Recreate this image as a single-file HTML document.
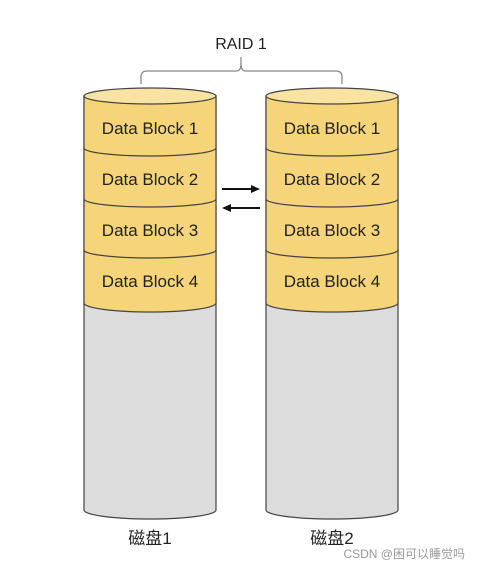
<!DOCTYPE html>
<html><head><meta charset="utf-8"><style>
html,body{margin:0;padding:0;background:#fff;}
svg{display:block;font-family:"Liberation Sans","Noto Sans CJK SC",sans-serif;}
</style></head><body>
<svg width="479" height="569" viewBox="0 0 479 569">
  <text x="241" y="49" font-size="16" text-anchor="middle" fill="#222">RAID 1</text>
  <path d="M141 84 V77 Q141 71 147 71 H236 Q241 71 241 64 V57 M241 64 Q241 71 246 71 H336 Q342 71 342 77 V84" fill="none" stroke="#888" stroke-width="1.3"/>

  <g>
    <path d="M84 96 V510 A66 9 0 0 0 216 510 V96 Z" fill="#dcdcdc" stroke="#444" stroke-width="1.2"/>
    <path d="M84 96 V303 A66 9 0 0 0 216 303 V96 Z" fill="#f5d47a" stroke="#444" stroke-width="1.2"/>
    <ellipse cx="150" cy="96" rx="66" ry="8" fill="#f9e3a3" stroke="#444" stroke-width="1.2"/>
    <path d="M84 148 A66 8 0 0 0 216 148 M84 199 A66 8 0 0 0 216 199 M84 250 A66 8 0 0 0 216 250" fill="none" stroke="#444" stroke-width="1.2"/>
    <text x="150" y="134" font-size="17" text-anchor="middle" fill="#222">Data Block 1</text>
    <text x="150" y="185" font-size="17" text-anchor="middle" fill="#222">Data Block 2</text>
    <text x="150" y="236" font-size="17" text-anchor="middle" fill="#222">Data Block 3</text>
    <text x="150" y="287" font-size="17" text-anchor="middle" fill="#222">Data Block 4</text>
  </g>

  <g>
    <path d="M266 96 V510 A66 9 0 0 0 398 510 V96 Z" fill="#dcdcdc" stroke="#444" stroke-width="1.2"/>
    <path d="M266 96 V303 A66 9 0 0 0 398 303 V96 Z" fill="#f5d47a" stroke="#444" stroke-width="1.2"/>
    <ellipse cx="332" cy="96" rx="66" ry="8" fill="#f9e3a3" stroke="#444" stroke-width="1.2"/>
    <path d="M266 148 A66 8 0 0 0 398 148 M266 199 A66 8 0 0 0 398 199 M266 250 A66 8 0 0 0 398 250" fill="none" stroke="#444" stroke-width="1.2"/>
    <text x="332" y="134" font-size="17" text-anchor="middle" fill="#222">Data Block 1</text>
    <text x="332" y="185" font-size="17" text-anchor="middle" fill="#222">Data Block 2</text>
    <text x="332" y="236" font-size="17" text-anchor="middle" fill="#222">Data Block 3</text>
    <text x="332" y="287" font-size="17" text-anchor="middle" fill="#222">Data Block 4</text>
  </g>

  <g>
    <path d="M222 189 H253" stroke="#111" stroke-width="2"/>
    <path d="M260 189 L251 185 L251 193 Z" fill="#111"/>
    <path d="M229 208 H260" stroke="#111" stroke-width="2"/>
    <path d="M222 208 L231 204 L231 212 Z" fill="#111"/>
  </g>

  <text x="150" y="544" font-size="17" text-anchor="middle" fill="#222">磁盘1</text>
  <text x="332" y="544" font-size="17" text-anchor="middle" fill="#222">磁盘2</text>
  <text x="465" y="558" font-size="12" text-anchor="end" fill="#999">CSDN @困可以睡觉吗</text>
</svg>
</body></html>
